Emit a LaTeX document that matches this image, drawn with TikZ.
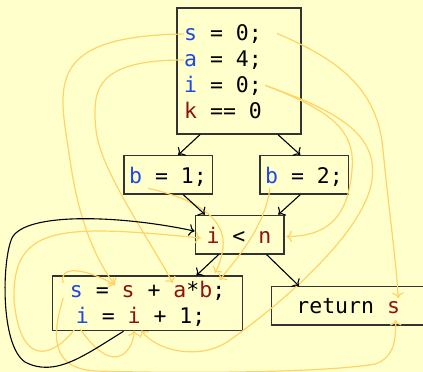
\documentclass[tikz,border=0pt]{standalone}
\usepackage{fontspec}
\usetikzlibrary{arrows.meta,calc}
\newfontfamily\codefont{DejaVu Sans Mono}
\definecolor{Paper}{HTML}{FFFFCC}
\definecolor{Def}{HTML}{1F48E0}
\definecolor{Use}{HTML}{8E1212}
\definecolor{Flow}{HTML}{FFD466}
\definecolor{Edge}{HTML}{333333}
\tikzset{
 blk/.style={draw=Edge, line width=1.3pt, fill=Paper, inner sep=0pt},
 code/.style={anchor=base west, inner sep=0pt, font=\codefont\fontsize{21.5}{26}\selectfont},
 tok/.style={inner sep=0pt, minimum width=13pt, minimum height=20pt},
 cfg/.style={-{To[scale=1.4]}, line width=1.1pt, draw=black},
 du/.style={-{To[scale=1.3]}, line width=1.2pt, draw=Flow}
}
\begin{document}
\begin{tikzpicture}[x=1pt,y=-1pt]
\useasboundingbox (0,0) rectangle (423,372);
\fill[Paper] (0,0) rectangle (423,372);
\clip (0,0) rectangle (423,372);
% blocks
\node[blk, minimum width=124pt, minimum height=126pt] (init) at (239,71) {};
\node[blk, minimum width=88.5pt, minimum height=38.5pt] (bone) at (168.25,174.75) {};
\node[blk, minimum width=88.5pt, minimum height=38.5pt] (btwo) at (304.25,174.75) {};
\node[blk, minimum width=88.7pt, minimum height=38.7pt] (cond) at (239.6,234.6) {};
\node[blk, minimum width=189.6pt, minimum height=54.7pt] (loop) at (147.5,303.3) {};
\node[blk, minimum width=170pt, minimum height=38.3pt] (ret) at (356.7,305.85) {};
% code
\node[code] (sinit) at (184,40) {\textcolor{Def}{s} = 0;};
\node[code] (ainit) at (184,66) {\textcolor{Def}{a} = 4;};
\node[code] (iinit) at (184,92) {\textcolor{Def}{i} = 0;};
\node[code] (kinit) at (184,118) {\textcolor{Use}{k} == 0};
\node[code] (bonel) at (129,183) {\textcolor{Def}{b} = 1;};
\node[code] (btwol) at (265,183) {\textcolor{Def}{b} = 2;};
\node[code] (condl) at (206.3,243) {\textcolor{Use}{i} < \textcolor{Use}{n}};
\node[code] (sloop) at (69.7,297) {\textcolor{Def}{s} = \textcolor{Use}{s} + \textcolor{Use}{a}*\textcolor{Use}{b};};
\node[code] (iloop) at (75.7,323) {\textcolor{Def}{i} = \textcolor{Use}{i} + 1;};
\node[code] (retl) at (296.2,313) {return \textcolor{Use}{s}};
% variable spots
\foreach \nm/\ln/\k in {sdef/sinit/0, adef/ainit/0, bdefa/bonel/0, bdefb/btwol/0,
  iuse/condl/0, sdefl/sloop/0, suse/sloop/4, ause/sloop/8, buse/sloop/10,
  idefl/iloop/0, iusel/iloop/4, sret/retl/7}
  \node[tok] (\nm) at ($(\ln.base west)+(\k*12.94+6.47,-6)$) {};
% def-use chains
\draw[du] (sdef.west) .. controls (40,36) and (60,90) .. (70,160) .. controls (80,230) and (100,265) .. ($(suse)+(-13,-6)$);
\draw[du] (adef.west) .. controls (95,60) and (92,90) .. (96,130) .. controls (100,170) and (150,240) .. ($(ause)+(-7,-8)$);
\draw[du] ($(iinit.east)+(3,0)$) .. controls (330,110) and (356,130) .. (352,170) .. controls (348,220) and (325,236) .. ($(cond.east)+(2,2)$);
\draw[du] ($(iinit.east)+(3,0)$) .. controls (340,112) and (378,135) .. (372,180) .. controls (366,225) and (300,290) .. (230,340) .. controls (200,362) and (155,350) .. ($(iusel)+(7.5,13.5)$);
\draw[du] ($(sinit.east)+(15,0)$) .. controls (340,60) and (378,90) .. (383,150) .. controls (390,220) and (396,260) .. ($(sret)+(5,-9)$);
\draw[du] ($(bdefa)+(12.6,11.3)$) .. controls (200,200) and (226,220) .. (223,248) .. controls (221,260) and (218,268) .. ($(buse)+(9,-18)$);
\draw[du] ($(bdefb)+(-1.5,11.3)$) .. controls (265,225) and (240,255) .. ($(buse)+(14,-11)$);
\draw[du] ($(sdefl)+(-13,-8)$) .. controls (58,265) and (85,268) .. ($(suse)+(-13,-6)$);
\draw[du] ($(sdefl)+(-13,7)$) .. controls (52,335) and (50,368) .. (95,371) .. controls (200,374) and (330,372) .. (375,364) .. controls (392,358) and (396,345) .. ($(sret)+(2.4,13)$);
\draw[du] ($(idefl)+(-8,13)$) .. controls (50,360) and (20,365) .. (14,300) .. controls (12,225) and (60,224) .. ($(iuse)+(-12,1)$);
\draw[du] ($(idefl)+(-2,12)$) .. controls (95,350) and (110,362) .. (122,355) .. controls (130,350) and (134,340) .. ($(iusel)+(0,13.5)$);
% control flow
\draw[cfg] ($(init.south)+(-39,0)$) -- ($(bone.north)+(10,0)$);
\draw[cfg] ($(init.south)+(39,0)$) -- ($(btwo.north)+(-4,0)$);
\draw[cfg] ($(bone.south)+(15,0)$) -- ($(cond.north)+(-34.6,0)$);
\draw[cfg] ($(btwo.south)+(-4,0)$) -- ($(cond.north)+(38.7,0)$);
\draw[cfg] ($(cond.south)+(-21,0)$) -- ($(loop.north)+(49,0)$);
\draw[cfg] ($(cond.south)+(27,0)$) -- ($(ret.north west)+(28,0)$);
\draw[cfg] ($(loop.south)+(-24,0)$) .. controls (85,355) and (55,378) .. (25,362) .. controls (0,345) and (2,260) .. (12,238) .. controls (25,212) and (120,215) .. ($(cond.west)+(0,-3.5)$);
\end{tikzpicture}
\end{document}
